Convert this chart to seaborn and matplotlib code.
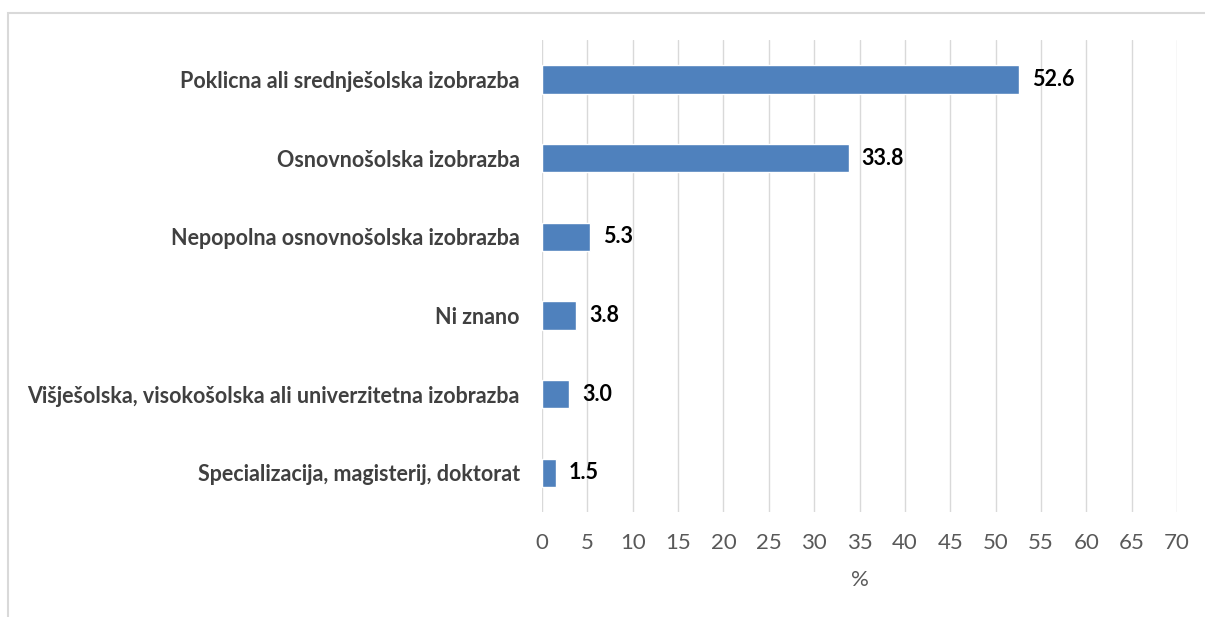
import matplotlib
matplotlib.use("Agg")
import matplotlib.pyplot as plt
import seaborn as sns
import pandas as pd
from matplotlib.patches import Rectangle

# data
categories = [
    "Poklicna ali srednješolska izobrazba",
    "Osnovnošolska izobrazba",
    "Nepopolna osnovnošolska izobrazba",
    "Ni znano",
    "Višješolska, visokošolska ali univerzitetna izobrazba",
    "Specializacija, magisterij, doktorat",
]
values = [52.6, 33.8, 5.3, 3.8, 3.0, 1.5]
x_ticks = list(range(0, 75, 5))

df = pd.DataFrame({"category": categories, "value": values})

sns.set_style("white")
plt.rcParams["font.family"] = ["Lato", "DejaVu Sans"]

fig = plt.figure(figsize=(12.05, 6.17), dpi=100)
ax = fig.add_axes([0.4498, 0.170, 0.5270, 0.765])

sns.barplot(data=df, x="value", y="category", orient="h", color="#4f81bd",
            saturation=1, width=0.36, ax=ax)

# value labels
for i, v in enumerate(values):
    ax.text(v + 1.4, i, f"{v:.1f}", va="center", ha="left",
            fontsize=15.5, fontweight="bold", color="black")

ax.set_xlim(0, 70)
ax.set_ylim(5.5, -0.5)
ax.set_xticks(x_ticks)
ax.set_xticklabels([str(t) for t in x_ticks], fontsize=16, color="#595959")
ax.set_ylabel("")
ax.set_xlabel("%", fontsize=16, color="#595959", labelpad=12)
ax.tick_params(axis="y", length=0, pad=16, labelsize=15.5, labelcolor="#404040")
ax.tick_params(axis="x", length=0, pad=15)
for lab in ax.get_yticklabels():
    lab.set_fontweight("bold")

ax.grid(axis="x", color="#d9d9d9", linewidth=1)
ax.set_axisbelow(True)
for s in ax.spines.values():
    s.set_visible(False)

# outer chart frame
fig.patches.append(Rectangle((8 / 1205, -0.1), 1.2, 1 - 13 / 617 + 0.1,
                             transform=fig.transFigure, fill=False,
                             edgecolor="#d9d9d9", linewidth=1.5))

fig.savefig("out.png", dpi=100)
